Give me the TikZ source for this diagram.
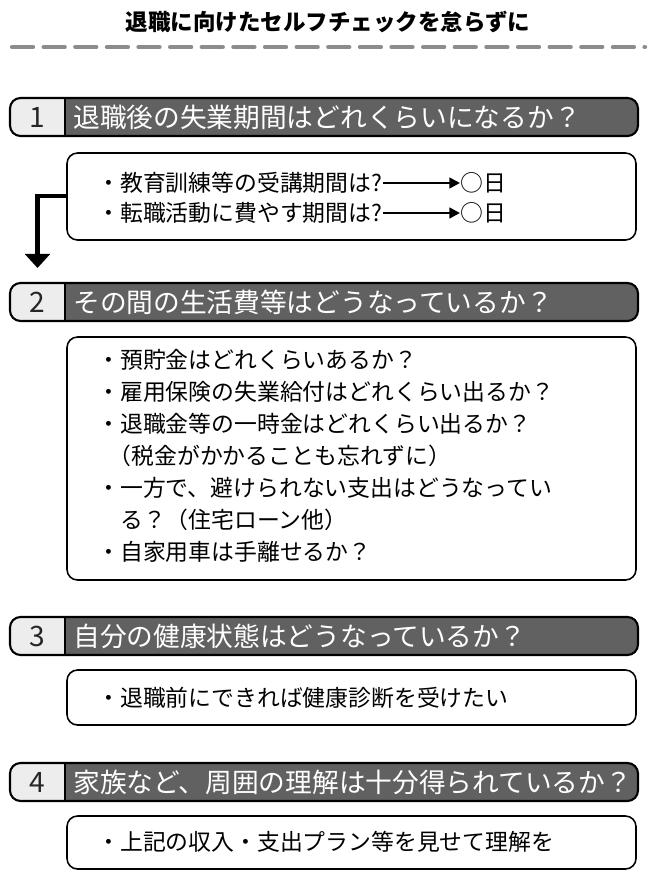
\documentclass[tikz,border=0pt]{standalone}
\usepackage{fontspec}
\setmainfont{Noto Sans CJK JP}
\usetikzlibrary{arrows.meta,positioning}

\begin{document}
\begin{tikzpicture}[
		x=0.02cm, y=-0.02cm,
		bar/.style={draw, line width=1.2pt, rounded corners=6pt},
		numtext/.style={font=\fontsize{16}{18}\selectfont, text=black!85},
		bartext/.style={anchor=west, font=\fontsize{15.2}{18}\selectfont, text=white, inner sep=0pt},
		checkbox/.style={draw, line width=0.9pt, rounded corners=6pt},
		boxtext/.style={anchor=north west, align=left, inner sep=0pt, font=\fontsize{13}{18.2}\selectfont},
		arrow/.style={line width=2.4pt, -{Triangle[width=14pt, length=8pt]}},
	]
		\useasboundingbox (0,0) rectangle (660,883);
		% title
		\node (title) at (328,22) {\fontsize{12.8}{14}\selectfont\bfseries 退職に向けたセルフチェックを怠らずに};
		\draw[gray!90, line width=2.4pt, line cap=round, dash pattern=on 12pt off 6pt] (12,47) -- (645,47);

		% bars
		\foreach \i/\top/\txt in {1/98/退職後の失業期間はどれくらいになるか？,
			2/283/その間の生活費等はどうなっているか？,
			3/617/自分の健康状態はどうなっているか？,
			4/763/家族など、周囲の理解は十分得られているか？} {
			\fill[black!62, rounded corners=6pt] (10,\top) rectangle (638,\top+38);
			\fill[black!7, rounded corners=6pt] (10,\top) rectangle (70,\top+38);
			\fill[black!62] (65,\top) rectangle (75,\top+38);
			\draw[bar] (10,\top) rectangle (638,\top+38);
			\draw[line width=1.2pt] (65,\top) -- (65,\top+38);
			\node[numtext] (n\i) at (37.5,\top+19) {\i};
			\node[bartext] (t\i) at (73,\top+19) {\txt};
		}

		% boxes
		\draw[checkbox] (67,153) rectangle (636,240);
		\coordinate (b1w) at (67,196);
		\draw[checkbox] (67,337) rectangle (636,580);
		\draw[checkbox] (67,670) rectangle (636,725);
		\draw[checkbox] (67,816) rectangle (636,869);

		% box 1
		\node[boxtext, anchor=west] (l1) at (97,183) {・教育訓練等の受講期間は?};
		\node[boxtext, anchor=west] (l2) at (97,213) {・転職活動に費やす期間は?};
		\node[boxtext, anchor=west] (d1) at (460,183) {○日};
		\node[boxtext, anchor=west] (d2) at (460,213) {○日};
		\draw[line width=1.4pt, -{Triangle[width=6pt, length=6pt]}] (l1.east) -- (d1.west);
		\draw[line width=1.4pt, -{Triangle[width=6pt, length=6pt]}] (l2.east) -- (d2.west);

		% box 2
		\node[boxtext] (l3) at (97,349) {・預貯金はどれくらいあるか？\\
			・雇用保険の失業給付はどれくらい出るか？\\
			・退職金等の一時金はどれくらい出るか？\\
			\hspace{0.5em}（税金がかかることも忘れずに）\\
			・一方で、避けられない支出はどうなってい\\
			\hspace{1em}る？（住宅ローン他）\\
			・自家用車は手離せるか？};

		% box 3, 4
		\node[boxtext, anchor=west] (l4) at (97,698) {・退職前にできれば健康診断を受けたい};
		\node[boxtext, anchor=west] (l5) at (97,842) {・上記の収入・支出プラン等を見せて理解を};

		% connector
		\draw[arrow] (b1w) -| ([yshift=10pt]n2.north);
	\end{tikzpicture}
\end{document}
